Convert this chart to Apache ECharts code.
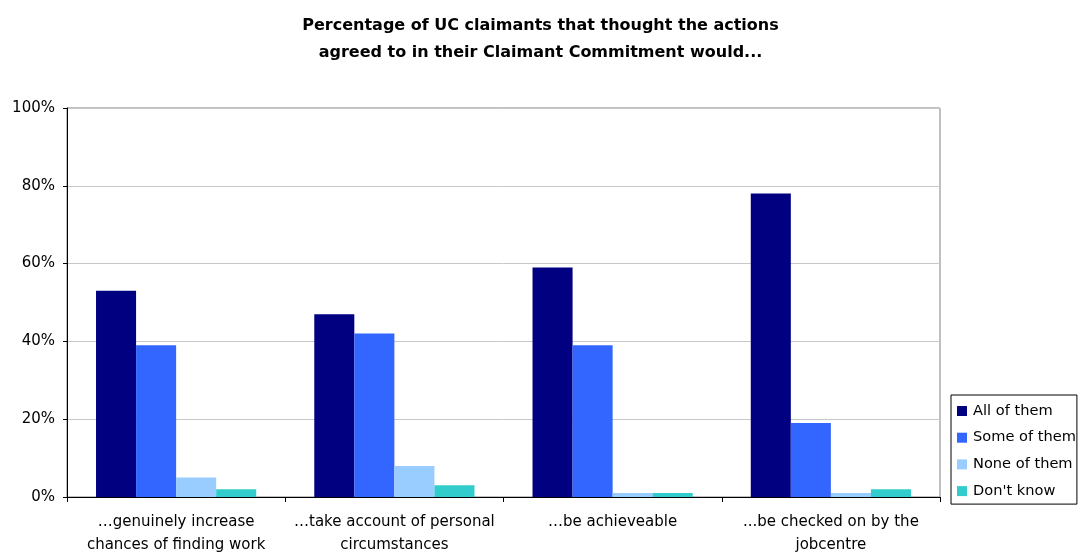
<!DOCTYPE html>
<html>
<head>
<meta charset="utf-8">
<script src="https://cdn.jsdelivr.net/npm/echarts@6/dist/echarts.min.js"></script>
<style>
  html, body { margin: 0; padding: 0; background: #fff; overflow: hidden; }
  #chart { width: 1081px; height: 552px; }
</style>
</head>
<body>
<div id="chart"></div>
<script>
// Survey categories (x axis)
const categories = [
  '…genuinely increase\nchances of finding work',
  '…take account of personal\ncircumstances',
  '…be achieveable',
  '...be checked on by the\njobcentre'
];
// Share of claimants per answer, in percent
const allOfThem  = [53, 47, 59, 78];
const someOfThem = [39, 42, 39, 19];
const noneOfThem = [5, 8, 1, 1];
const dontKnow   = [2, 3, 1, 2];
const seriesNames = ['All of them', 'Some of them', 'None of them', "Don't know"];
const seriesColors = ['#000080', '#3366FF', '#99CCFF', '#33CCCC'];
const yTicks = [0, 20, 40, 60, 80, 100];

const font = 'DejaVu Sans, Liberation Sans, Arial, sans-serif';
const chart = echarts.init(document.getElementById('chart'), null, { renderer: 'canvas' });

const values = [allOfThem, someOfThem, noneOfThem, dontKnow];

chart.setOption({
  animation: false,
  backgroundColor: '#ffffff',
  textStyle: { fontFamily: font },
  title: {
    text: 'Percentage of UC claimants that thought the actions\nagreed to in their Claimant Commitment would...',
    left: 'center',
    top: 7,
    textStyle: { fontFamily: font, fontSize: 16, fontWeight: 'bold', color: '#000', lineHeight: 27 }
  },
  legend: {
    orient: 'vertical',
    left: 951,
    top: 395,
    padding: [7, 1, 4, 6],
    itemWidth: 10,
    itemHeight: 10,
    itemGap: 8.7,
    icon: 'rect',
    backgroundColor: '#ffffff',
    borderColor: '#000000',
    borderWidth: 1,
    textStyle: { fontFamily: font, fontSize: 14.6, color: '#000', lineHeight: 18, padding: [0, 0, 0, 1] },
    data: seriesNames
  },
  grid: {
    left: 67, right: 141, top: 108, bottom: 55,
    outerBoundsMode: 'none',
    containLabel: false,
    show: true, borderColor: '#808080', borderWidth: 1, backgroundColor: 'transparent'
  },
  xAxis: {
    type: 'category',
    data: categories,
    axisLine: { lineStyle: { color: '#000', width: 1 } },
    axisTick: { show: true, length: 5, lineStyle: { color: '#000' } },
    axisLabel: { fontFamily: font, fontSize: 15, color: '#000', lineHeight: 23, margin: 14, interval: 0 }
  },
  yAxis: {
    type: 'value',
    min: yTicks[0],
    max: yTicks[yTicks.length - 1],
    interval: 20,
    axisLine: { show: true, lineStyle: { color: '#000', width: 1 } },
    axisTick: { show: true, length: 4, lineStyle: { color: '#000' } },
    splitLine: { lineStyle: { color: '#c8c8c8', width: 1 } },
    axisLabel: { fontFamily: font, fontSize: 15, color: '#000', margin: 12, formatter: '{value}%' }
  },
  series: seriesNames.map((name, i) => ({
    name,
    type: 'bar',
    data: values[i],
    barGap: '0%',
    barCategoryGap: '26.6%',
    itemStyle: { color: seriesColors[i] }
  }))
});
</script>
</body>
</html>
